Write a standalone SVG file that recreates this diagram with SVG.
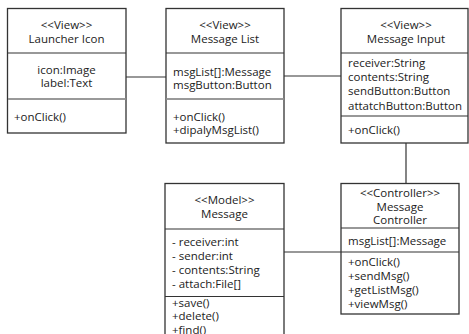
<svg xmlns="http://www.w3.org/2000/svg" width="469" height="334" viewBox="0 0 469 334">
<style>
.box{fill:#fff;stroke:#333;stroke-width:1.3}
.div{stroke:#333;stroke-width:1.2}
.div2{stroke:#999;stroke-width:2}
.con{stroke:#333;stroke-width:1.2;fill:none}
text{font-family:"Open Sans","Noto Sans CJK KR",sans-serif;font-size:11.5px;fill:#222}
.c{text-anchor:middle}
</style>
<rect width="469" height="334" fill="#fff"/>
<g id="connectors">
<line class="con" x1="126" y1="77" x2="166" y2="77"/>
<line class="con" x1="284" y1="76" x2="341" y2="76"/>
<line class="con" x1="406" y1="143" x2="406" y2="183"/>
<line class="con" x1="284" y1="252" x2="341" y2="252"/>
</g>
<g id="launcher-icon">
<rect class="box" x="7.5" y="8.5" width="118.5" height="124.5"/>
<line class="div" x1="7.5" y1="53" x2="126" y2="53"/>
<line class="div2" x1="8" y1="99" x2="125.5" y2="99"/>
<text class="c" x="66.5" y="29">&lt;&lt;View&gt;&gt;</text>
<text class="c" x="66.5" y="43">Launcher Icon</text>
<text class="c" x="66.5" y="74">icon:Image</text>
<text class="c" x="66.5" y="87">label:Text</text>
<text x="14" y="121">+onClick()</text>
</g>
<g id="message-list">
<rect class="box" x="166" y="8.5" width="118" height="134.5"/>
<line class="div" x1="166" y1="53" x2="284" y2="53"/>
<line class="div2" x1="166.5" y1="99" x2="283.5" y2="99"/>
<text class="c" x="225" y="29">&lt;&lt;View&gt;&gt;</text>
<text class="c" x="225" y="43">Message List</text>
<text x="173" y="76">msgList[]:Message</text>
<text x="173" y="89">msgButton:Button</text>
<text x="173" y="121">+onClick()</text>
<text x="173" y="134">+dipalyMsgList()</text>
</g>
<g id="message-input">
<rect class="box" x="341" y="8.5" width="127" height="134.5"/>
<line class="div" x1="341" y1="53" x2="468" y2="53"/>
<line class="div" x1="341" y1="116" x2="468" y2="116"/>
<text class="c" x="406" y="29">&lt;&lt;View&gt;&gt;</text>
<text class="c" x="406" y="43">Message Input</text>
<text x="348" y="67">receiver:String</text>
<text x="348" y="81">contents:String</text>
<text x="348" y="95">sendButton:Button</text>
<text x="348" y="110">attatchButton:Button</text>
<text x="348" y="134">+onClick()</text>
</g>
<g id="message">
<rect class="box" x="165" y="183.5" width="119" height="160"/>
<line class="div" x1="165" y1="229" x2="284" y2="229"/>
<line class="div" x1="165" y1="296.5" x2="284" y2="296.5"/>
<text class="c" x="224.5" y="204">&lt;&lt;Model&gt;&gt;</text>
<text class="c" x="224.5" y="218">Message</text>
<text x="172" y="246">- receiver:int</text>
<text x="172" y="260">- sender:int</text>
<text x="172" y="274">- contents:String</text>
<text x="172" y="288">- attach:File[]</text>
<text x="172" y="307">+save()</text>
<text x="172" y="320">+delete()</text>
<text x="172" y="334">+find()</text>
</g>
<g id="message-controller">
<rect class="box" x="341" y="183.5" width="118" height="130.5"/>
<line class="div" x1="341" y1="228" x2="459" y2="228"/>
<line class="div" x1="341" y1="252" x2="459" y2="252"/>
<text class="c" x="400" y="197">&lt;&lt;Controller&gt;&gt;</text>
<text class="c" x="400" y="211">Message</text>
<text class="c" x="400" y="224">Controller</text>
<text x="348" y="245">msgList[]:Message</text>
<text x="348" y="266">+onClick()</text>
<text x="348" y="280">+sendMsg()</text>
<text x="348" y="294">+getListMsg()</text>
<text x="348" y="308">+viewMsg()</text>
</g>
</svg>
